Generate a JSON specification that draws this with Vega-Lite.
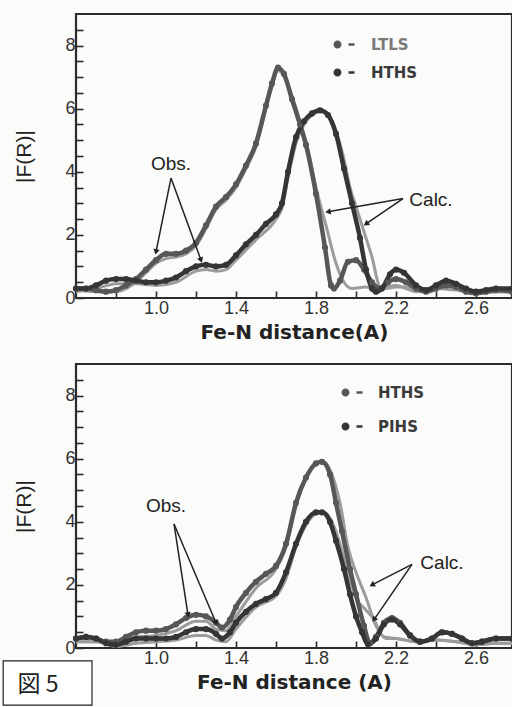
{
"$schema": "https://vega.github.io/schema/vega-lite/v6.json",
"background": "#fbfbf9",
"padding": {"left": 1, "top": 12, "right": 3, "bottom": 3},
"config": {
 "view": {"stroke": "#2b2b2b", "strokeWidth": 2.2},
 "axis": {"grid": false, "domain": false, "tickColor": "#2b2b2b", "tickWidth": 1.6, "tickSize": -7, "labelFont": "Liberation Sans", "labelFontSize": 18, "labelColor": "#333", "titleColor": "#222"}
},
"datasets": {
 "top": [
  {"s":"LTLS","k":"obs","R":0.6,"F":0.3},{"s":"LTLS","k":"obs","R":0.65,"F":0.3},{"s":"LTLS","k":"obs","R":0.7,"F":0.25},{"s":"LTLS","k":"obs","R":0.75,"F":0.2},{"s":"LTLS","k":"obs","R":0.8,"F":0.25},{"s":"LTLS","k":"obs","R":0.85,"F":0.4},{"s":"LTLS","k":"obs","R":0.9,"F":0.6},{"s":"LTLS","k":"obs","R":0.95,"F":0.9},{"s":"LTLS","k":"obs","R":1.0,"F":1.2},{"s":"LTLS","k":"obs","R":1.05,"F":1.4},{"s":"LTLS","k":"obs","R":1.1,"F":1.4},{"s":"LTLS","k":"obs","R":1.15,"F":1.5},{"s":"LTLS","k":"obs","R":1.2,"F":1.75},{"s":"LTLS","k":"obs","R":1.25,"F":2.3},{"s":"LTLS","k":"obs","R":1.3,"F":2.9},{"s":"LTLS","k":"obs","R":1.35,"F":3.2},{"s":"LTLS","k":"obs","R":1.4,"F":3.6},{"s":"LTLS","k":"obs","R":1.45,"F":4.2},{"s":"LTLS","k":"obs","R":1.5,"F":4.9},{"s":"LTLS","k":"obs","R":1.55,"F":6.1},{"s":"LTLS","k":"obs","R":1.58,"F":6.8},{"s":"LTLS","k":"obs","R":1.61,"F":7.3},{"s":"LTLS","k":"obs","R":1.64,"F":7.1},{"s":"LTLS","k":"obs","R":1.68,"F":6.3},{"s":"LTLS","k":"obs","R":1.72,"F":5.5},{"s":"LTLS","k":"obs","R":1.75,"F":4.85},{"s":"LTLS","k":"obs","R":1.8,"F":3.3},{"s":"LTLS","k":"obs","R":1.845,"F":1.6},{"s":"LTLS","k":"obs","R":1.875,"F":0.4},{"s":"LTLS","k":"obs","R":1.89,"F":0.3},{"s":"LTLS","k":"obs","R":1.92,"F":0.55},{"s":"LTLS","k":"obs","R":1.96,"F":1.15},{"s":"LTLS","k":"obs","R":2.0,"F":1.2},{"s":"LTLS","k":"obs","R":2.04,"F":0.9},{"s":"LTLS","k":"obs","R":2.08,"F":0.5},{"s":"LTLS","k":"obs","R":2.12,"F":0.3},{"s":"LTLS","k":"obs","R":2.16,"F":0.5},{"s":"LTLS","k":"obs","R":2.2,"F":0.6},{"s":"LTLS","k":"obs","R":2.25,"F":0.5},{"s":"LTLS","k":"obs","R":2.3,"F":0.3},{"s":"LTLS","k":"obs","R":2.35,"F":0.2},{"s":"LTLS","k":"obs","R":2.4,"F":0.3},{"s":"LTLS","k":"obs","R":2.45,"F":0.4},{"s":"LTLS","k":"obs","R":2.5,"F":0.35},{"s":"LTLS","k":"obs","R":2.55,"F":0.2},{"s":"LTLS","k":"obs","R":2.6,"F":0.15},{"s":"LTLS","k":"obs","R":2.65,"F":0.2},{"s":"LTLS","k":"obs","R":2.7,"F":0.25},{"s":"LTLS","k":"obs","R":2.78,"F":0.2},
  {"s":"HTHS","k":"obs","R":0.6,"F":0.3},{"s":"HTHS","k":"obs","R":0.65,"F":0.3},{"s":"HTHS","k":"obs","R":0.7,"F":0.4},{"s":"HTHS","k":"obs","R":0.75,"F":0.55},{"s":"HTHS","k":"obs","R":0.8,"F":0.6},{"s":"HTHS","k":"obs","R":0.85,"F":0.6},{"s":"HTHS","k":"obs","R":0.9,"F":0.55},{"s":"HTHS","k":"obs","R":0.95,"F":0.5},{"s":"HTHS","k":"obs","R":1.0,"F":0.5},{"s":"HTHS","k":"obs","R":1.05,"F":0.55},{"s":"HTHS","k":"obs","R":1.1,"F":0.65},{"s":"HTHS","k":"obs","R":1.15,"F":0.85},{"s":"HTHS","k":"obs","R":1.2,"F":1.0},{"s":"HTHS","k":"obs","R":1.25,"F":1.05},{"s":"HTHS","k":"obs","R":1.3,"F":1.0},{"s":"HTHS","k":"obs","R":1.35,"F":1.05},{"s":"HTHS","k":"obs","R":1.4,"F":1.35},{"s":"HTHS","k":"obs","R":1.45,"F":1.7},{"s":"HTHS","k":"obs","R":1.5,"F":2.0},{"s":"HTHS","k":"obs","R":1.55,"F":2.35},{"s":"HTHS","k":"obs","R":1.6,"F":2.65},{"s":"HTHS","k":"obs","R":1.63,"F":3.0},{"s":"HTHS","k":"obs","R":1.66,"F":4.0},{"s":"HTHS","k":"obs","R":1.7,"F":5.1},{"s":"HTHS","k":"obs","R":1.74,"F":5.6},{"s":"HTHS","k":"obs","R":1.78,"F":5.85},{"s":"HTHS","k":"obs","R":1.82,"F":5.95},{"s":"HTHS","k":"obs","R":1.86,"F":5.8},{"s":"HTHS","k":"obs","R":1.9,"F":5.2},{"s":"HTHS","k":"obs","R":1.94,"F":4.1},{"s":"HTHS","k":"obs","R":1.98,"F":3.0},{"s":"HTHS","k":"obs","R":2.02,"F":1.9},{"s":"HTHS","k":"obs","R":2.05,"F":0.9},{"s":"HTHS","k":"obs","R":2.08,"F":0.3},{"s":"HTHS","k":"obs","R":2.1,"F":0.2},{"s":"HTHS","k":"obs","R":2.13,"F":0.3},{"s":"HTHS","k":"obs","R":2.17,"F":0.75},{"s":"HTHS","k":"obs","R":2.2,"F":0.9},{"s":"HTHS","k":"obs","R":2.24,"F":0.8},{"s":"HTHS","k":"obs","R":2.3,"F":0.4},{"s":"HTHS","k":"obs","R":2.35,"F":0.25},{"s":"HTHS","k":"obs","R":2.4,"F":0.4},{"s":"HTHS","k":"obs","R":2.45,"F":0.55},{"s":"HTHS","k":"obs","R":2.5,"F":0.45},{"s":"HTHS","k":"obs","R":2.55,"F":0.3},{"s":"HTHS","k":"obs","R":2.6,"F":0.2},{"s":"HTHS","k":"obs","R":2.65,"F":0.25},{"s":"HTHS","k":"obs","R":2.7,"F":0.3},{"s":"HTHS","k":"obs","R":2.78,"F":0.3},
  {"s":"LTLS","k":"calc","R":0.6,"F":0.25},{"s":"LTLS","k":"calc","R":0.7,"F":0.2},{"s":"LTLS","k":"calc","R":0.8,"F":0.2},{"s":"LTLS","k":"calc","R":0.85,"F":0.3},{"s":"LTLS","k":"calc","R":0.9,"F":0.5},{"s":"LTLS","k":"calc","R":0.95,"F":0.8},{"s":"LTLS","k":"calc","R":1.0,"F":1.1},{"s":"LTLS","k":"calc","R":1.05,"F":1.25},{"s":"LTLS","k":"calc","R":1.1,"F":1.3},{"s":"LTLS","k":"calc","R":1.15,"F":1.4},{"s":"LTLS","k":"calc","R":1.2,"F":1.65},{"s":"LTLS","k":"calc","R":1.25,"F":2.2},{"s":"LTLS","k":"calc","R":1.3,"F":2.8},{"s":"LTLS","k":"calc","R":1.35,"F":3.1},{"s":"LTLS","k":"calc","R":1.4,"F":3.5},{"s":"LTLS","k":"calc","R":1.45,"F":4.1},{"s":"LTLS","k":"calc","R":1.5,"F":4.8},{"s":"LTLS","k":"calc","R":1.55,"F":6.0},{"s":"LTLS","k":"calc","R":1.58,"F":6.7},{"s":"LTLS","k":"calc","R":1.61,"F":7.2},{"s":"LTLS","k":"calc","R":1.64,"F":7.05},{"s":"LTLS","k":"calc","R":1.68,"F":6.4},{"s":"LTLS","k":"calc","R":1.72,"F":5.6},{"s":"LTLS","k":"calc","R":1.76,"F":4.7},{"s":"LTLS","k":"calc","R":1.8,"F":3.5},{"s":"LTLS","k":"calc","R":1.85,"F":2.3},{"s":"LTLS","k":"calc","R":1.9,"F":1.1},{"s":"LTLS","k":"calc","R":1.94,"F":0.5},{"s":"LTLS","k":"calc","R":1.98,"F":0.3},{"s":"LTLS","k":"calc","R":2.05,"F":0.35},{"s":"LTLS","k":"calc","R":2.1,"F":0.3},{"s":"LTLS","k":"calc","R":2.15,"F":0.35},{"s":"LTLS","k":"calc","R":2.2,"F":0.4},{"s":"LTLS","k":"calc","R":2.25,"F":0.3},{"s":"LTLS","k":"calc","R":2.3,"F":0.2},{"s":"LTLS","k":"calc","R":2.4,"F":0.3},{"s":"LTLS","k":"calc","R":2.5,"F":0.25},{"s":"LTLS","k":"calc","R":2.6,"F":0.15},{"s":"LTLS","k":"calc","R":2.7,"F":0.2},{"s":"LTLS","k":"calc","R":2.78,"F":0.2},
  {"s":"HTHS","k":"calc","R":0.6,"F":0.2},{"s":"HTHS","k":"calc","R":0.7,"F":0.3},{"s":"HTHS","k":"calc","R":0.8,"F":0.45},{"s":"HTHS","k":"calc","R":0.9,"F":0.45},{"s":"HTHS","k":"calc","R":1.0,"F":0.4},{"s":"HTHS","k":"calc","R":1.1,"F":0.5},{"s":"HTHS","k":"calc","R":1.2,"F":0.85},{"s":"HTHS","k":"calc","R":1.25,"F":0.9},{"s":"HTHS","k":"calc","R":1.3,"F":0.85},{"s":"HTHS","k":"calc","R":1.35,"F":0.9},{"s":"HTHS","k":"calc","R":1.4,"F":1.2},{"s":"HTHS","k":"calc","R":1.5,"F":1.85},{"s":"HTHS","k":"calc","R":1.6,"F":2.5},{"s":"HTHS","k":"calc","R":1.63,"F":2.85},{"s":"HTHS","k":"calc","R":1.66,"F":3.8},{"s":"HTHS","k":"calc","R":1.7,"F":4.9},{"s":"HTHS","k":"calc","R":1.74,"F":5.5},{"s":"HTHS","k":"calc","R":1.78,"F":5.8},{"s":"HTHS","k":"calc","R":1.82,"F":5.9},{"s":"HTHS","k":"calc","R":1.86,"F":5.8},{"s":"HTHS","k":"calc","R":1.9,"F":5.3},{"s":"HTHS","k":"calc","R":1.94,"F":4.4},{"s":"HTHS","k":"calc","R":1.97,"F":3.5},{"s":"HTHS","k":"calc","R":2.0,"F":2.9},{"s":"HTHS","k":"calc","R":2.04,"F":2.1},{"s":"HTHS","k":"calc","R":2.08,"F":1.3},{"s":"HTHS","k":"calc","R":2.12,"F":0.35},{"s":"HTHS","k":"calc","R":2.15,"F":0.3},{"s":"HTHS","k":"calc","R":2.2,"F":0.35},{"s":"HTHS","k":"calc","R":2.25,"F":0.35},{"s":"HTHS","k":"calc","R":2.3,"F":0.25},{"s":"HTHS","k":"calc","R":2.4,"F":0.3},{"s":"HTHS","k":"calc","R":2.45,"F":0.35},{"s":"HTHS","k":"calc","R":2.5,"F":0.3},{"s":"HTHS","k":"calc","R":2.6,"F":0.15},{"s":"HTHS","k":"calc","R":2.7,"F":0.2},{"s":"HTHS","k":"calc","R":2.78,"F":0.2}
 ],
 "bottom": [
  {"s":"HTHS","k":"obs","R":0.6,"F":0.3},{"s":"HTHS","k":"obs","R":0.65,"F":0.35},{"s":"HTHS","k":"obs","R":0.7,"F":0.3},{"s":"HTHS","k":"obs","R":0.75,"F":0.2},{"s":"HTHS","k":"obs","R":0.8,"F":0.2},{"s":"HTHS","k":"obs","R":0.85,"F":0.35},{"s":"HTHS","k":"obs","R":0.9,"F":0.5},{"s":"HTHS","k":"obs","R":0.95,"F":0.55},{"s":"HTHS","k":"obs","R":1.0,"F":0.55},{"s":"HTHS","k":"obs","R":1.05,"F":0.6},{"s":"HTHS","k":"obs","R":1.1,"F":0.75},{"s":"HTHS","k":"obs","R":1.15,"F":0.95},{"s":"HTHS","k":"obs","R":1.2,"F":1.05},{"s":"HTHS","k":"obs","R":1.25,"F":1.0},{"s":"HTHS","k":"obs","R":1.3,"F":0.8},{"s":"HTHS","k":"obs","R":1.33,"F":0.65},{"s":"HTHS","k":"obs","R":1.37,"F":0.9},{"s":"HTHS","k":"obs","R":1.4,"F":1.3},{"s":"HTHS","k":"obs","R":1.45,"F":1.75},{"s":"HTHS","k":"obs","R":1.5,"F":2.1},{"s":"HTHS","k":"obs","R":1.55,"F":2.35},{"s":"HTHS","k":"obs","R":1.6,"F":2.6},{"s":"HTHS","k":"obs","R":1.65,"F":3.3},{"s":"HTHS","k":"obs","R":1.7,"F":4.6},{"s":"HTHS","k":"obs","R":1.75,"F":5.4},{"s":"HTHS","k":"obs","R":1.8,"F":5.85},{"s":"HTHS","k":"obs","R":1.83,"F":5.9},{"s":"HTHS","k":"obs","R":1.87,"F":5.5},{"s":"HTHS","k":"obs","R":1.9,"F":4.6},{"s":"HTHS","k":"obs","R":1.93,"F":3.7},{"s":"HTHS","k":"obs","R":1.97,"F":2.5},{"s":"HTHS","k":"obs","R":2.0,"F":1.7},{"s":"HTHS","k":"obs","R":2.04,"F":0.7},{"s":"HTHS","k":"obs","R":2.07,"F":0.15},{"s":"HTHS","k":"obs","R":2.1,"F":0.35},{"s":"HTHS","k":"obs","R":2.14,"F":0.8},{"s":"HTHS","k":"obs","R":2.18,"F":0.95},{"s":"HTHS","k":"obs","R":2.22,"F":0.8},{"s":"HTHS","k":"obs","R":2.27,"F":0.4},{"s":"HTHS","k":"obs","R":2.32,"F":0.2},{"s":"HTHS","k":"obs","R":2.38,"F":0.3},{"s":"HTHS","k":"obs","R":2.43,"F":0.5},{"s":"HTHS","k":"obs","R":2.48,"F":0.45},{"s":"HTHS","k":"obs","R":2.53,"F":0.3},{"s":"HTHS","k":"obs","R":2.58,"F":0.15},{"s":"HTHS","k":"obs","R":2.63,"F":0.2},{"s":"HTHS","k":"obs","R":2.7,"F":0.3},{"s":"HTHS","k":"obs","R":2.78,"F":0.3},
  {"s":"PIHS","k":"obs","R":0.6,"F":0.3},{"s":"PIHS","k":"obs","R":0.65,"F":0.35},{"s":"PIHS","k":"obs","R":0.7,"F":0.3},{"s":"PIHS","k":"obs","R":0.75,"F":0.15},{"s":"PIHS","k":"obs","R":0.8,"F":0.1},{"s":"PIHS","k":"obs","R":0.85,"F":0.2},{"s":"PIHS","k":"obs","R":0.9,"F":0.3},{"s":"PIHS","k":"obs","R":0.95,"F":0.3},{"s":"PIHS","k":"obs","R":1.0,"F":0.3},{"s":"PIHS","k":"obs","R":1.05,"F":0.3},{"s":"PIHS","k":"obs","R":1.1,"F":0.35},{"s":"PIHS","k":"obs","R":1.15,"F":0.5},{"s":"PIHS","k":"obs","R":1.2,"F":0.6},{"s":"PIHS","k":"obs","R":1.25,"F":0.6},{"s":"PIHS","k":"obs","R":1.3,"F":0.45},{"s":"PIHS","k":"obs","R":1.33,"F":0.3},{"s":"PIHS","k":"obs","R":1.37,"F":0.5},{"s":"PIHS","k":"obs","R":1.4,"F":0.8},{"s":"PIHS","k":"obs","R":1.45,"F":1.15},{"s":"PIHS","k":"obs","R":1.5,"F":1.4},{"s":"PIHS","k":"obs","R":1.55,"F":1.55},{"s":"PIHS","k":"obs","R":1.6,"F":1.75},{"s":"PIHS","k":"obs","R":1.65,"F":2.4},{"s":"PIHS","k":"obs","R":1.7,"F":3.3},{"s":"PIHS","k":"obs","R":1.75,"F":4.0},{"s":"PIHS","k":"obs","R":1.8,"F":4.3},{"s":"PIHS","k":"obs","R":1.83,"F":4.3},{"s":"PIHS","k":"obs","R":1.87,"F":4.0},{"s":"PIHS","k":"obs","R":1.9,"F":3.4},{"s":"PIHS","k":"obs","R":1.94,"F":2.5},{"s":"PIHS","k":"obs","R":1.97,"F":1.7},{"s":"PIHS","k":"obs","R":2.0,"F":1.0},{"s":"PIHS","k":"obs","R":2.03,"F":0.5},{"s":"PIHS","k":"obs","R":2.06,"F":0.12},{"s":"PIHS","k":"obs","R":2.1,"F":0.3},{"s":"PIHS","k":"obs","R":2.14,"F":0.75},{"s":"PIHS","k":"obs","R":2.18,"F":0.9},{"s":"PIHS","k":"obs","R":2.22,"F":0.75},{"s":"PIHS","k":"obs","R":2.27,"F":0.4},{"s":"PIHS","k":"obs","R":2.32,"F":0.2},{"s":"PIHS","k":"obs","R":2.38,"F":0.3},{"s":"PIHS","k":"obs","R":2.43,"F":0.5},{"s":"PIHS","k":"obs","R":2.48,"F":0.45},{"s":"PIHS","k":"obs","R":2.53,"F":0.3},{"s":"PIHS","k":"obs","R":2.58,"F":0.15},{"s":"PIHS","k":"obs","R":2.63,"F":0.2},{"s":"PIHS","k":"obs","R":2.7,"F":0.3},{"s":"PIHS","k":"obs","R":2.78,"F":0.3},
  {"s":"HTHS","k":"calc","R":0.6,"F":0.2},{"s":"HTHS","k":"calc","R":0.7,"F":0.2},{"s":"HTHS","k":"calc","R":0.8,"F":0.15},{"s":"HTHS","k":"calc","R":0.9,"F":0.35},{"s":"HTHS","k":"calc","R":1.0,"F":0.4},{"s":"HTHS","k":"calc","R":1.1,"F":0.55},{"s":"HTHS","k":"calc","R":1.2,"F":0.85},{"s":"HTHS","k":"calc","R":1.25,"F":0.85},{"s":"HTHS","k":"calc","R":1.3,"F":0.6},{"s":"HTHS","k":"calc","R":1.35,"F":0.55},{"s":"HTHS","k":"calc","R":1.4,"F":1.0},{"s":"HTHS","k":"calc","R":1.5,"F":1.9},{"s":"HTHS","k":"calc","R":1.6,"F":2.5},{"s":"HTHS","k":"calc","R":1.65,"F":3.2},{"s":"HTHS","k":"calc","R":1.7,"F":4.5},{"s":"HTHS","k":"calc","R":1.75,"F":5.4},{"s":"HTHS","k":"calc","R":1.8,"F":5.85},{"s":"HTHS","k":"calc","R":1.84,"F":5.9},{"s":"HTHS","k":"calc","R":1.88,"F":5.5},{"s":"HTHS","k":"calc","R":1.92,"F":4.6},{"s":"HTHS","k":"calc","R":1.96,"F":3.2},{"s":"HTHS","k":"calc","R":2.0,"F":2.4},{"s":"HTHS","k":"calc","R":2.05,"F":1.6},{"s":"HTHS","k":"calc","R":2.1,"F":0.7},{"s":"HTHS","k":"calc","R":2.14,"F":0.35},{"s":"HTHS","k":"calc","R":2.2,"F":0.3},{"s":"HTHS","k":"calc","R":2.3,"F":0.2},{"s":"HTHS","k":"calc","R":2.4,"F":0.25},{"s":"HTHS","k":"calc","R":2.5,"F":0.2},{"s":"HTHS","k":"calc","R":2.6,"F":0.1},{"s":"HTHS","k":"calc","R":2.7,"F":0.15},{"s":"HTHS","k":"calc","R":2.78,"F":0.15},
  {"s":"PIHS","k":"calc","R":0.6,"F":0.2},{"s":"PIHS","k":"calc","R":0.7,"F":0.2},{"s":"PIHS","k":"calc","R":0.8,"F":0.05},{"s":"PIHS","k":"calc","R":0.9,"F":0.15},{"s":"PIHS","k":"calc","R":1.0,"F":0.2},{"s":"PIHS","k":"calc","R":1.1,"F":0.25},{"s":"PIHS","k":"calc","R":1.2,"F":0.4},{"s":"PIHS","k":"calc","R":1.25,"F":0.4},{"s":"PIHS","k":"calc","R":1.3,"F":0.25},{"s":"PIHS","k":"calc","R":1.35,"F":0.2},{"s":"PIHS","k":"calc","R":1.4,"F":0.6},{"s":"PIHS","k":"calc","R":1.5,"F":1.3},{"s":"PIHS","k":"calc","R":1.6,"F":1.65},{"s":"PIHS","k":"calc","R":1.65,"F":2.2},{"s":"PIHS","k":"calc","R":1.7,"F":3.2},{"s":"PIHS","k":"calc","R":1.75,"F":3.9},{"s":"PIHS","k":"calc","R":1.8,"F":4.25},{"s":"PIHS","k":"calc","R":1.84,"F":4.3},{"s":"PIHS","k":"calc","R":1.88,"F":4.0},{"s":"PIHS","k":"calc","R":1.92,"F":3.3},{"s":"PIHS","k":"calc","R":1.96,"F":2.4},{"s":"PIHS","k":"calc","R":2.0,"F":1.6},{"s":"PIHS","k":"calc","R":2.05,"F":1.2},{"s":"PIHS","k":"calc","R":2.09,"F":0.9},{"s":"PIHS","k":"calc","R":2.12,"F":0.5},{"s":"PIHS","k":"calc","R":2.15,"F":0.3},{"s":"PIHS","k":"calc","R":2.2,"F":0.3},{"s":"PIHS","k":"calc","R":2.3,"F":0.2},{"s":"PIHS","k":"calc","R":2.4,"F":0.25},{"s":"PIHS","k":"calc","R":2.5,"F":0.2},{"s":"PIHS","k":"calc","R":2.6,"F":0.1},{"s":"PIHS","k":"calc","R":2.7,"F":0.15},{"s":"PIHS","k":"calc","R":2.78,"F":0.15}
 ],
 "topText": [{"label":"Obs.","R":1.075,"F":4.25},{"label":"Calc.","R":2.375,"F":3.1}],
 "topArrows": [{"R":1.0,"F":1.46,"R0":1.075,"F0":3.8},{"R":1.225,"F":1.2,"R0":1.075,"F0":3.8},{"R":1.86,"F":2.73,"R0":2.235,"F0":3.15},{"R":2.05,"F":2.35,"R0":2.235,"F0":3.15}],
 "bottomText": [{"label":"Obs.","R":1.05,"F":4.5},{"label":"Calc.","R":2.43,"F":2.7}],
 "bottomArrows": [{"R":1.16,"F":1.05,"R0":1.09,"F0":3.93},{"R":1.3,"F":0.8,"R0":1.09,"F0":3.93},{"R":2.08,"F":2.0,"R0":2.28,"F0":2.65},{"R":2.09,"F":0.9,"R0":2.28,"F0":2.65}],
 "figLabel": [{"label":"図 5","R":0.41,"F":-1.17,"R2":0.236,"F2":-0.41,"R3":0.68,"F3":-1.81}]
},
"spacing": 18,
"resolve": {"scale": {"color": "independent"}, "legend": {"color": "independent"}},
"vconcat": [
 {
  "width": 436, "height": 284,
  "encoding": {
   "x": {"field": "R", "type": "quantitative", "scale": {"domain": [0.6, 2.78], "nice": false, "zero": false},
     "axis": {"values": [0.8,1.0,1.2,1.4,1.6,1.8,2.0,2.2,2.4,2.6], "labelExpr": "indexof([1,1.4,1.8,2.2,2.6], datum.value) >= 0 ? format(datum.value, '.1f') : ''", "labelPadding": 8, "title": "Fe-N distance(A)", "titleFont": "DejaVu Sans", "titleFontWeight": "bold", "titleFontSize": 20, "titlePadding": 5}},
   "y": {"field": "F", "type": "quantitative", "scale": {"domain": [0, 9], "nice": false},
     "axis": {"values": [0,0.5,1,1.5,2,2.5,3,3.5,4,4.5,5,5.5,6,6.5,7,7.5,8,8.5], "labelExpr": "datum.value % 2 == 0 ? format(datum.value, 'd') : ''", "labelPadding": 8, "title": "|F(R)|", "titleFont": "Liberation Sans", "titleFontWeight": "normal", "titleFontSize": 21, "titlePadding": 30}}
  },
  "layer": [
   {"data": {"name": "top"}, "transform": [{"filter": "datum.k == 'calc'"}],
    "mark": {"type": "line", "interpolate": "monotone", "strokeWidth": 3, "color": "#9b9d9a"},
    "encoding": {"detail": {"field": "s"}}},
   {"data": {"name": "top"}, "transform": [{"filter": "datum.k == 'obs'"}],
    "mark": {"type": "line", "interpolate": "monotone", "strokeWidth": 4.5},
    "encoding": {"detail": {"field": "s"}, "color": {"field": "s", "type": "nominal", "scale": {"domain": ["LTLS","HTHS"], "range": ["#555855","#333633"]},
      "legend": {"title": null, "orient": "none", "legendX": 254, "legendY": 23, "symbolType": "M-1,0A1,1,0,1,0,1,0A1,1,0,1,0,-1,0Z M2.75,-0.3H4.25V0.3H2.75Z", "symbolSize": 64, "symbolStrokeWidth": 0, "labelFont": "DejaVu Sans", "labelFontWeight": "bold", "labelFontSize": 15, "labelOffset": 26, "rowPadding": 12,
        "encode": {"labels": {"update": {"fill": {"signal": "datum.value == 'LTLS' ? '#7a7a7a' : '#3a3a3a'"}}}}}}}},
   {"data": {"name": "top"}, "transform": [{"filter": "datum.k == 'obs'"}],
    "mark": {"type": "point", "filled": true, "size": 38, "opacity": 1},
    "encoding": {"color": {"field": "s", "type": "nominal", "scale": {"domain": ["LTLS","HTHS"], "range": ["#555855","#333633"]},
      "legend": {"title": null, "orient": "none", "legendX": 254, "legendY": 23, "symbolType": "M-1,0A1,1,0,1,0,1,0A1,1,0,1,0,-1,0Z M2.75,-0.3H4.25V0.3H2.75Z", "symbolSize": 64, "symbolStrokeWidth": 0, "labelFont": "DejaVu Sans", "labelFontWeight": "bold", "labelFontSize": 15, "labelOffset": 26, "rowPadding": 12,
        "encode": {"labels": {"update": {"fill": {"signal": "datum.value == 'LTLS' ? '#7a7a7a' : '#3a3a3a'"}}}}}}}},
   {"data": {"name": "topArrows"}, "mark": {"type": "rule", "color": "#222", "strokeWidth": 1.5},
    "encoding": {"x2": {"field": "R0"}, "y2": {"field": "F0"}}},
   {"data": {"name": "topArrows"}, "transform": [{"calculate": "atan2((datum.R - datum.R0) * 200, (datum.F - datum.F0) * 31.5) * 180 / PI", "as": "ang"}],
    "mark": {"type": "point", "shape": "triangle-up", "filled": true, "color": "#222", "size": 40, "opacity": 1},
    "encoding": {"angle": {"field": "ang", "type": "quantitative", "scale": null}}},
   {"data": {"name": "topText"}, "mark": {"type": "text", "font": "Liberation Sans", "fontSize": 19, "color": "#222", "align": "center", "baseline": "middle"},
    "encoding": {"text": {"field": "label"}}}
  ]
 },
 {
  "width": 436, "height": 284,
  "encoding": {
   "x": {"field": "R", "type": "quantitative", "scale": {"domain": [0.6, 2.78], "nice": false, "zero": false},
     "axis": {"values": [0.8,1.0,1.2,1.4,1.6,1.8,2.0,2.2,2.4,2.6], "labelExpr": "indexof([1,1.4,1.8,2.2,2.6], datum.value) >= 0 ? format(datum.value, '.1f') : ''", "labelPadding": 8, "title": "Fe-N distance (A)", "titleFont": "DejaVu Sans", "titleFontWeight": "bold", "titleFontSize": 20, "titlePadding": 5}},
   "y": {"field": "F", "type": "quantitative", "scale": {"domain": [0, 9], "nice": false},
     "axis": {"values": [0,0.5,1,1.5,2,2.5,3,3.5,4,4.5,5,5.5,6,6.5,7,7.5,8,8.5], "labelExpr": "datum.value % 2 == 0 ? format(datum.value, 'd') : ''", "labelPadding": 8, "title": "|F(R)|", "titleFont": "Liberation Sans", "titleFontWeight": "normal", "titleFontSize": 21, "titlePadding": 30}}
  },
  "layer": [
   {"data": {"name": "bottom"}, "transform": [{"filter": "datum.k == 'calc'"}],
    "mark": {"type": "line", "interpolate": "monotone", "strokeWidth": 3, "color": "#9b9d9a"},
    "encoding": {"detail": {"field": "s"}}},
   {"data": {"name": "bottom"}, "transform": [{"filter": "datum.k == 'obs'"}],
    "mark": {"type": "line", "interpolate": "monotone", "strokeWidth": 4.5},
    "encoding": {"detail": {"field": "s"}, "color": {"field": "s", "type": "nominal", "scale": {"domain": ["HTHS","PIHS"], "range": ["#555855","#333633"]},
      "legend": {"title": null, "orient": "none", "legendX": 262, "legendY": 21, "symbolType": "M-1,0A1,1,0,1,0,1,0A1,1,0,1,0,-1,0Z M2.75,-0.3H4.25V0.3H2.75Z", "symbolSize": 64, "symbolStrokeWidth": 0, "labelFont": "DejaVu Sans", "labelFontWeight": "bold", "labelFontSize": 15, "labelColor": "#3a3a3a", "labelOffset": 25, "rowPadding": 18}}}},
   {"data": {"name": "bottom"}, "transform": [{"filter": "datum.k == 'obs'"}],
    "mark": {"type": "point", "filled": true, "size": 38, "opacity": 1},
    "encoding": {"color": {"field": "s", "type": "nominal", "scale": {"domain": ["HTHS","PIHS"], "range": ["#555855","#333633"]},
      "legend": {"title": null, "orient": "none", "legendX": 262, "legendY": 21, "symbolType": "M-1,0A1,1,0,1,0,1,0A1,1,0,1,0,-1,0Z M2.75,-0.3H4.25V0.3H2.75Z", "symbolSize": 64, "symbolStrokeWidth": 0, "labelFont": "DejaVu Sans", "labelFontWeight": "bold", "labelFontSize": 15, "labelColor": "#3a3a3a", "labelOffset": 25, "rowPadding": 18}}}},
   {"data": {"name": "bottomArrows"}, "mark": {"type": "rule", "color": "#222", "strokeWidth": 1.5},
    "encoding": {"x2": {"field": "R0"}, "y2": {"field": "F0"}}},
   {"data": {"name": "bottomArrows"}, "transform": [{"calculate": "atan2((datum.R - datum.R0) * 200, (datum.F - datum.F0) * 31.5) * 180 / PI", "as": "ang"}],
    "mark": {"type": "point", "shape": "triangle-up", "filled": true, "color": "#222", "size": 40, "opacity": 1},
    "encoding": {"angle": {"field": "ang", "type": "quantitative", "scale": null}}},
   {"data": {"name": "bottomText"}, "mark": {"type": "text", "font": "Liberation Sans", "fontSize": 19, "color": "#222", "align": "center", "baseline": "middle"},
    "encoding": {"text": {"field": "label"}}},
   {"data": {"name": "figLabel"}, "mark": {"type": "rect", "fill": "#ffffff", "stroke": "#222", "strokeWidth": 1.2},
    "encoding": {"x": {"field": "R2", "type": "quantitative"}, "x2": {"field": "R3"}, "y": {"field": "F2", "type": "quantitative"}, "y2": {"field": "F3"}}},
   {"data": {"name": "figLabel"}, "mark": {"type": "text", "font": "Noto Sans CJK JP", "fontSize": 23, "color": "#222", "align": "center", "baseline": "middle"},
    "encoding": {"text": {"field": "label"}}}
  ]
 }
]
}
